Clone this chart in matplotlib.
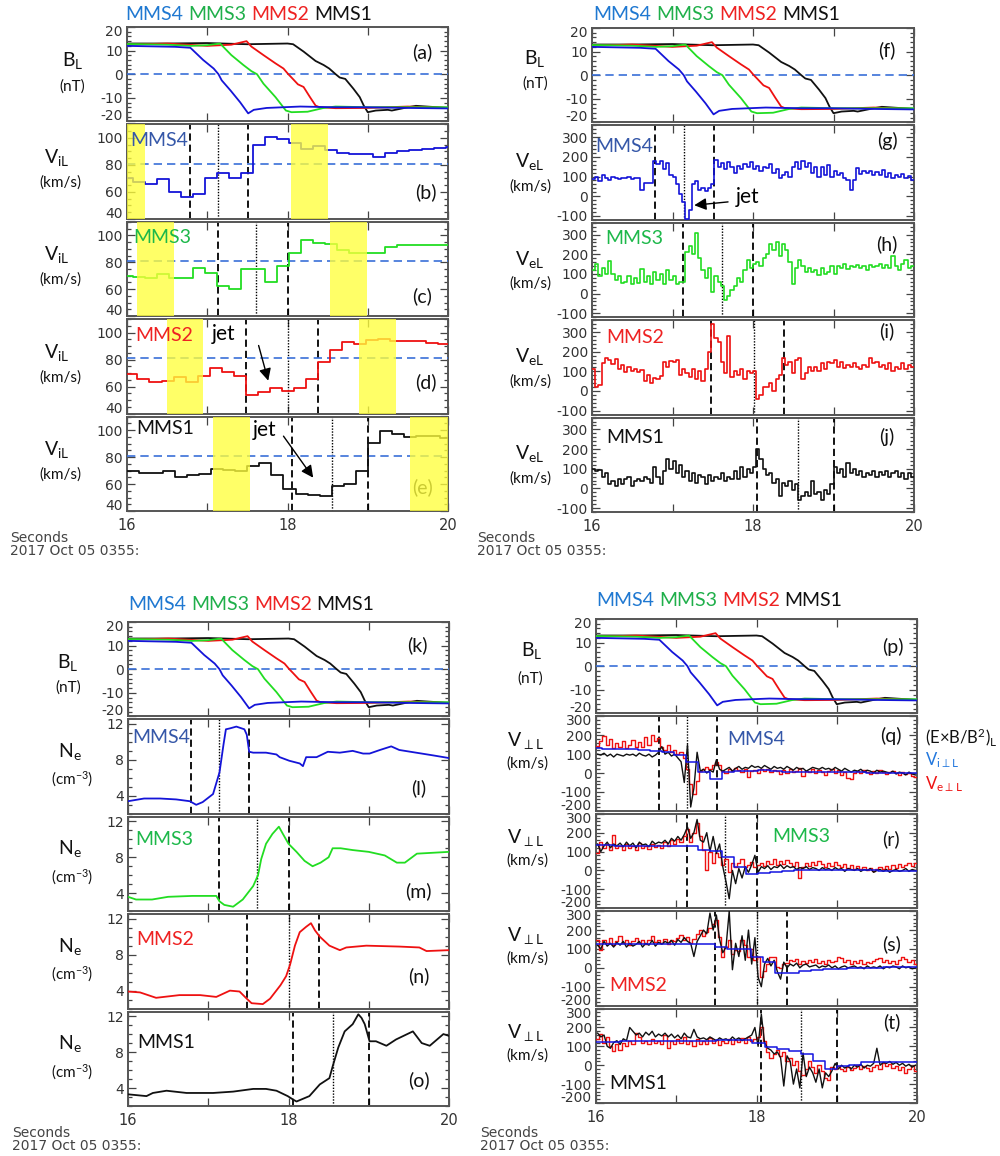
import numpy as np
import matplotlib
matplotlib.use('Agg')
import matplotlib.pyplot as plt
from matplotlib.ticker import MultipleLocator

plt.rcParams['font.family'] = ['Lato', 'DejaVu Sans']
plt.rcParams['mathtext.default'] = 'regular'
plt.rcParams['axes.unicode_minus'] = False

# ---------------- data ----------------
names = ['MMS4', 'MMS3', 'MMS2', 'MMS1']

# B_L (nT), same in every quadrant
bl_t_mms4 = [16.0, 16.3, 16.6, 16.79, 16.95, 17.08, 17.14, 17.18, 17.29, 17.41, 17.51, 17.58, 17.74, 18.16, 18.57, 18.98, 19.5, 20.0]
bl_v_mms4 = [12.0, 11.8, 11.6, 11.2, 6.0, 2.4, 0.0, -2.6, -6.9, -11.9, -16.6, -15.1, -14.3, -13.7, -14.0, -14.0, -14.3, -14.5]
bl_t_mms3 = [16.0, 16.5, 16.8, 17.0, 17.16, 17.3, 17.45, 17.55, 17.62, 17.7, 17.85, 17.98, 18.05, 18.25, 18.45, 18.6, 19.0, 19.5, 20.0]
bl_v_mms3 = [12.8, 12.5, 12.0, 12.3, 13.0, 8.1, 3.9, 1.3, 0.0, -4.0, -9.7, -15.4, -16.1, -15.9, -14.3, -13.7, -14.0, -14.0, -14.0]
bl_t_mms2 = [16.0, 16.5, 17.0, 17.3, 17.49, 17.55, 17.7, 17.85, 17.95, 18.01, 18.05, 18.13, 18.2, 18.28, 18.35, 18.4, 18.6, 19.0, 19.5, 20.0]
bl_v_mms2 = [12.5, 13.0, 12.0, 12.5, 14.0, 11.7, 8.1, 4.6, 2.4, 0.0, -1.4, -4.3, -5.4, -9.7, -13.3, -14.0, -14.4, -14.3, -13.7, -14.3]
bl_t_mms1 = [16.0, 16.5, 17.0, 17.5, 18.0, 18.07, 18.2, 18.35, 18.45, 18.52, 18.6, 18.65, 18.72, 18.82, 18.9, 18.95, 19.0, 19.1, 19.25, 19.3, 19.5, 19.6, 20.0]
bl_v_mms1 = [13.0, 13.0, 13.2, 12.7, 13.0, 12.7, 9.6, 5.6, 3.9, 2.4, 0.0, -1.4, -2.0, -6.1, -9.7, -13.3, -16.1, -15.4, -15.1, -15.4, -14.0, -13.4, -14.3]

# ion L velocity (km/s), 150 ms samples
ion_dt = 0.15
ion_t0_mms4, ion_t0_mms3, ion_t0_mms2, ion_t0_mms1 = 15.92, 15.92, 15.98, 16.0
vil_mms4 = [70, 67, 66, 69.5, 60, 56, 58.5, 70, 74, 70.5, 74, 95, 101, 99, 96, 92, 94, 91, 89, 88, 88, 86, 89, 90.5, 91, 92, 92.5, 93]
vil_mms3 = [70, 69, 68, 71, 68, 68, 76, 72, 62.5, 60, 75, 75, 65.7, 77, 87, 96.5, 94, 93.3, 89, 87, 87, 87, 91, 93, 92.5, 92.5, 92.5, 92.5]
vil_mms2 = [69, 65.7, 63.7, 64, 67, 63.7, 68, 73.6, 70.6, 68.2, 53.7, 55.7, 59, 56.5, 59, 65.7, 78, 87.3, 93, 91.3, 94.8, 95.5, 93.5, 93.5, 93.5, 92.3, 91.5]
vil_mms1 = [70, 68, 68.4, 69.6, 65.4, 66.7, 67.2, 70.9, 70.4, 69.6, 73.6, 75.3, 66.7, 56.5, 52.3, 51.9, 51.4, 58.3, 60.2, 69.6, 90.6, 99.3, 97.3, 95, 95.8, 95.3, 94.3]
vil_ref = 81

# perpendicular ion velocity, L component
vip_mms4 = [130, 128, 126, 126, 120, 117, 112, 98, 57, 5, -34, 5, 10, 12, 14, 12, 8, 6, 8, 6, 4, 3, 4, 2, 2, 0, 2, 0]
vip_mms3 = [135, 133, 132, 131, 131, 131, 130, 130, 127, 108, 101, 70, 17, -17, -15, -9, -5, 0, 0, 0, 0, 0, 0, 0, -3, -3, -3, -3]
vip_mms2 = [128, 128, 127, 127, 126, 126, 127, 128, 128, 128, 112, 100, 98, 56, 30, -28, -28, -18, -10, -6, -4, -3, -2, 0, 2, 4, 2]
vip_mms1 = [125, 125, 126, 127, 128, 128, 129, 130, 130, 131, 132, 133, 133, 118, 95, 88, 75, 62, 25, -22, -5, 2, 15, 15, 16, 16, 16]

# yellow intervals in the ViL panels
shade_mms4 = [(16.0, 16.23), (18.04, 18.50)]
shade_mms3 = [(16.12, 16.58), (18.53, 18.99)]
shade_mms2 = [(16.50, 16.95), (18.89, 19.35)]
shade_mms1 = [(17.07, 17.53), (19.53, 20.0)]

# dashed / dotted / dashed times per spacecraft
ev_mms4 = (16.78, 17.14, 17.51)
ev_mms3 = (17.13, 17.61, 18.0)
ev_mms2 = (17.48, 18.01, 18.38)
ev_mms1 = (18.05, 18.56, 19.0)

# electron L velocity (km/s), 40 ms samples from 16.00
ele_t0, ele_dt = 16.0, 0.04
vel_mms4 = [85, 100, 75, 110, 95, 80, 100, 90, 85, 95,
            90, 100, 85, 95, 95, 30, 65, 65, 65, 180,
            165, 180, 140, 170, 110, 100, 60, 10, -30, -115,
            -70, 60, 75, 30, 40, 25, 40, 60, 185, 150,
            170, 140, 175, 150, 120, 155, 140, 165, 150, 175,
            140, 155, 130, 150, 145, 165, 120, 140, 90, 110,
            125, 100, 150, 175, 140, 180, 150, 170, 120, 150,
            100, 150, 110, 160, 100, 130, 110, 120, 90, 80,
            30, 80, 145, 115, 130, 120, 130, 110, 125, 110,
            135, 100, 120, 95, 110, 100, 115, 95, 105, 80]
vel_mms3 = [120, 150, 90, 130, 100, 165, 100, 70, 90, 55,
            60, 90, 50, 80, 55, 125, 60, 90, 50, 110,
            70, 100, 50, 120, 70, 90, 50, 60, 60, 210,
            240, 200, 310, 180, 120, 80, 130, 10, 90, 60,
            40, -30, -10, 20, 40, 80, 60, 120, 170, 130,
            150, 160, 140, 180, 200, 250, 220, 260, 190, 250,
            220, 160, 50, 130, 170, 140, 110, 130, 110, 120,
            95, 130, 100, 110, 140, 100, 140, 130, 150, 125,
            140, 135, 145, 130, 140, 120, 145, 135, 140, 150,
            130, 145, 130, 190, 140, 120, 150, 170, 130, 140]
vel_mms2 = [110, 20, 30, 140, 170, 160, 135, 165, 110, 130,
            95, 120, 100, 110, 95, 105, 50, 80, 40, 65,
            60, 75, 150, 120, 155, 150, 160, 80, 110, 90,
            70, 110, 60, 100, 50, 110, 200, 340, 270, 250,
            150, 90, 280, 70, 100, 80, 110, 60, 100, 90,
            100, -40, -20, 20, 20, 40, 0, 60, 80, 170,
            130, 150, 90, 160, 170, 60, 90, 120, 100, 120,
            100, 140, 110, 150, 140, 160, 120, 150, 115, 130,
            120, 140, 120, 110, 130, 120, 170, 140, 150, 120,
            130, 110, 140, 100, 120, 110, 140, 110, 130, 120]
vel_mms1 = [100, 90, 95, 60, 80, 20, 40, 10, 50, 20,
            50, 60, 10, 40, 50, 40, 60, 50, 30, 110,
            60, 20, 90, 150, 100, 140, 80, 120, 60, 90,
            40, 80, 30, 70, 60, 20, 70, 40, 60, 50,
            80, 40, 60, 50, 90, 50, 110, 60, 100, 80,
            110, 200, 150, 100, 70, 80, 30, 50, -40, 30,
            10, 40, -10, 20, -60, -40, -20, -40, 40, -30,
            -20, -60, -10, -30, 20, 110, 80, 100, 60, 130,
            80, 100, 70, 90, 60, 80, 70, 90, 60, 85,
            70, 90, 60, 80, 90, 60, 80, 50, 80, 60]

# perpendicular electron velocity, L component (40 ms from 16.00)
vep_mms4 = [145, 170, 195, 150, 180, 130, 160, 140, 170, 130,
            150, 175, 140, 165, 140, 190, 150, 200, 170, 185,
            140, 120, 150, 110, 120, 100, 110, 80, 20, -60,
            -110, -40, 10, 20, 30, 20, 40, 60, 40, 10,
            0, 20, 10, 25, 15, 5, 20, -20, 10, 15,
            0, 20, 10, 20, 5, 15, 10, -5, 15, 0,
            20, 5, 10, 25, -15, 10, 5, 20, 0, 15,
            5, -10, 10, 20, 0, 15, -10, 5, -25, -30,
            0, 10, 0, 15, 5, -5, 10, 0, 15, 5,
            -5, 5, 10, 0, -10, 5, -5, 0, -15, -20]
vep_mms3 = [90, 150, 120, 140, 110, 190, 120, 130, 110, 140,
            120, 130, 110, 145, 120, 130, 115, 140, 125, 135,
            120, 150, 130, 160, 140, 165, 150, 180, 220, 150,
            200, 250, 180, 110, 0, 100, 40, 90, 70, 30,
            60, -10, 40, 20, 40, 60, 20, 30, 45, 20,
            30, 40, 25, 50, 35, 60, 30, 50, 35, 55,
            40, 25, 45, -40, 20, 40, 25, 45, 30, 50,
            35, 20, 40, 25, 45, 30, 20, 35, 15, 30,
            10, 25, 5, 20, 0, 15, -5, 10, 20, 5,
            25, 10, 30, 15, 35, 20, 30, 40, 25, 40]
vep_mms2 = [145, 95, 150, 130, 160, 120, 140, 170, 130, 150,
            120, 140, 160, 130, 150, 125, 145, 170, 135, 150,
            130, 155, 125, 150, 140, 160, 175, 150, 165, 130,
            155, 180, 200, 170, 190, 210, 230, 255, 165, 60,
            110, 150, 75, 95, 90, 145, 120, 60, 100, 40,
            60, -50, -15, 20, 55, 60, 5, 0, 20, 25,
            40, 35, 45, 20, 35, 25, 40, 30, 45, 25,
            35, 20, 40, 30, 35, 55, 50, 30, 40, 20,
            35, 25, 40, 20, 30, 25, 35, 45, 50, 30,
            40, 25, 35, 20, 40, 55, 45, 30, 40, 20]
vep_mms1 = [140, 165, 120, 150, 100, 75, 110, 80, 120, 100,
            130, 110, 170, 150, 120, 130, 110, 140, 120, 130,
            110, 160, 90, 130, 110, 140, 120, 150, 110, 130,
            100, 140, 115, 130, 110, 145, 120, 135, 105, 130,
            120, 140, 115, 135, 125, 145, 120, 150, 130, 140,
            150, 200, 130, 70, 40, 60, 80, 50, 70, 20,
            40, 0, 20, -30, -50, -20, 20, -10, -40, 0,
            -30, -70, -80, -10, -20, -5, -20, -30, -10, -25,
            -15, 0, -20, -5, -15, -30, -10, 0, -20, 10,
            -5, 5, -15, -5, -25, -10, -40, -20, -5, -30]

# (E x B / B^2)_L, 40 ms from 16.02
exb_t0 = 16.02
exb_mms4 = [100, 95, 105, 90, 100, 85, 100, 95, 90, 100,
            95, 100, 90, 105, 95, 90, 100, 85, 95, 110,
            140, 100, 110, 90, 100, 80, 60, -50, 150, -180,
            -80, 110, 10, 20, 0, 15, 5, 70, 20, 10,
            20, 30, 10, 25, 35, 20, 30, 25, 40, 30,
            35, 25, 40, 30, 20, 35, 25, 30, 20, 35,
            25, 15, 30, 20, 25, 10, 20, 30, 25, 20,
            30, 20, 25, 15, 30, 20, 10, 25, 15, 5,
            15, 10, 20, 5, 15, 10, 0, 15, 5, 10,
            5, 0, 10, -5, 5, 0, -10, 5, -5, -10]
exb_mms3 = [140, 100, 130, 150, 120, 140, 130, 145, 125, 150,
            130, 145, 120, 150, 135, 140, 125, 155, 140, 150,
            145, 160, 140, 170, 155, 180, 160, 190, 230, 170,
            200, 270, 160, 150, 200, 100, 180, 90, 140, 20,
            -60, -150, 0, -70, 10, -40, 20, -10, 30, 80,
            -10, 20, 10, 25, 5, 20, 15, 30, 10, 25,
            15, 20, 5, 15, 10, 20, 5, 15, 10, 0,
            15, 5, 10, 0, 15, 5, 10, -5, 10, 5,
            0, 10, -5, 5, 0, 10, -10, 0, 5, -5,
            5, -10, 0, 5, -5, 0, 10, -5, 5, 0]
exb_mms2 = [120, 100, 140, 115, 130, 110, 135, 120, 140, 110,
            130, 115, 125, 140, 110, 130, 120, 145, 115, 135,
            125, 140, 130, 145, 120, 150, 135, 160, 140, 130,
            60, 140, 170, 200, 180, 290, 200, 280, 150, 80,
            110, 300, -10, 130, 60, 170, 40, 200, 20, 160,
            -50, -100, 20, 50, 10, 40, -20, -60, 30, 0,
            20, 10, 25, 0, 15, 20, 5, 10, 15, 0,
            10, 5, 15, 0, 10, -5, 5, 10, 0, 5,
            10, 0, 5, -5, 10, 0, 5, 0, 10, -5,
            5, 0, 10, 5, -5, 10, 0, 5, -5, 0]
exb_mms1 = [170, 150, 160, 100, 90, 120, 130, 110, 140, 130,
            200, 180, 160, 170, 150, 175, 160, 180, 150, 165,
            155, 170, 150, 165, 145, 160, 140, 170, 150, 145,
            190, 150, 140, 145, 135, 150, 140, 130, 145, 135,
            140, 130, 150, 135, 145, 130, 140, 150, 160, 200,
            100, 270, 120, 90, 80, 60, 70, 40, -110, 50,
            20, -100, -20, -120, 65, -60, -10, -40, -90, -20,
            -120, -40, -60, -30, 10, -20, 0, -15, -5, -20,
            0, -10, 5, -15, 0, -5, 10, 90, 0, 15,
            10, 20, 5, 15, 0, 10, -5, 5, -10, 0]

# electron density (cm^-3)
ne_t_mms4 = [16.0, 16.2, 16.4, 16.6, 16.77, 16.85, 16.93, 17.06, 17.14, 17.19, 17.22, 17.27, 17.35, 17.45, 17.48, 17.51, 17.56, 17.72, 17.85, 17.89, 18.01, 18.14, 18.18, 18.22, 18.35, 18.49, 18.64, 18.80, 18.93, 19.01, 19.14, 19.28, 19.38, 19.59, 19.80, 20.0]
ne_v_mms4 = [3.4, 3.7, 3.7, 3.6, 3.4, 3.0, 3.3, 4.2, 6.6, 9.7, 11.4, 11.5, 11.7, 11.4, 10.8, 8.9, 8.8, 8.8, 8.6, 8.3, 7.9, 7.6, 7.3, 8.3, 8.3, 8.9, 8.8, 9.0, 8.7, 8.7, 9.1, 9.5, 9.1, 8.8, 8.5, 8.2]
ne_t_mms3 = [16.0, 16.1, 16.3, 16.5, 16.8, 17.1, 17.14, 17.2, 17.31, 17.43, 17.56, 17.62, 17.66, 17.72, 17.8, 17.88, 17.93, 18.0, 18.1, 18.2, 18.3, 18.4, 18.5, 18.55, 18.65, 18.8, 19.0, 19.2, 19.35, 19.45, 19.6, 19.8, 20.0]
ne_v_mms3 = [3.6, 3.3, 3.3, 3.6, 3.7, 3.7, 3.1, 2.7, 2.5, 3.3, 4.8, 6.0, 7.8, 9.5, 10.6, 11.4, 10.6, 9.5, 8.6, 7.6, 7.0, 7.4, 8.0, 9.0, 9.0, 8.8, 8.6, 8.2, 7.4, 7.4, 8.4, 8.5, 8.6]
ne_t_mms2 = [16.0, 16.15, 16.35, 16.64, 16.9, 17.1, 17.27, 17.39, 17.48, 17.54, 17.68, 17.77, 17.9, 17.97, 18.02, 18.08, 18.14, 18.22, 18.28, 18.33, 18.39, 18.51, 18.64, 18.72, 18.97, 19.38, 19.63, 19.72, 20.0]
ne_v_mms2 = [3.9, 3.8, 3.2, 3.5, 3.5, 3.3, 4.0, 3.9, 3.1, 2.6, 2.5, 3.1, 4.6, 5.6, 6.9, 9.0, 10.5, 11.1, 11.5, 10.7, 10.0, 9.0, 8.5, 8.8, 9.0, 8.9, 8.8, 8.4, 8.5]
ne_t_mms1 = [16.0, 16.23, 16.31, 16.48, 16.73, 17.06, 17.31, 17.56, 17.72, 17.85, 17.99, 18.06, 18.1, 18.26, 18.39, 18.51, 18.55, 18.62, 18.7, 18.8, 18.87, 18.91, 18.95, 19.01, 19.09, 19.22, 19.34, 19.55, 19.66, 19.76, 19.93, 20.0]
ne_v_mms1 = [3.3, 3.1, 3.45, 3.7, 3.45, 3.45, 3.6, 3.9, 3.9, 3.7, 3.1, 2.7, 2.5, 3.1, 4.4, 5.1, 6.4, 8.5, 10.3, 11.1, 12.2, 11.8, 11.1, 9.2, 9.2, 8.7, 9.4, 10.3, 9.0, 8.7, 10.0, 9.8]

# ---------------- style ----------------
line_col = {'MMS4': '#1414d8', 'MMS3': '#22dd22', 'MMS2': '#ee1111', 'MMS1': '#111111'}
title_col = {'MMS4': '#1f78d1', 'MMS3': '#1faf4a', 'MMS2': '#ee2222', 'MMS1': '#111111'}
label_col = {'MMS4': '#3557a8', 'MMS3': '#1db84a', 'MMS2': '#ee2222', 'MMS1': '#111111'}
tick_font = ['DejaVu Sans']

W, H = 1000, 1156
fig = plt.figure(figsize=(W / 100, H / 100), dpi=100)
rend = fig.canvas.get_renderer()


def fx(px):
    return px / W


def fy(py):
    return 1 - py / H


def column(left, right, top, bottom, gap=3):
    h = (bottom - top - 4 * gap) / 5
    axs = []
    for i in range(5):
        t = top + i * (h + gap)
        axs.append(fig.add_axes([fx(left), fy(t + h), (right - left) / W, h / H]))
    return axs


def style(ax, ylim, yticks, yminor, bottom=False):
    lo, hi = ylim
    ax.set_xlim(16, 20)
    ax.set_ylim(lo, hi)
    ax.set_yticks(yticks)
    # labels sitting on the frame edge are pulled inside, as in the original
    ax.set_yticklabels(['' if v in (lo, hi) else str(v) for v in yticks])
    for v in yticks:
        if v in (lo, hi):
            dy = -3.6 if v == hi else 3.6
            ax.annotate(str(v), xy=(0, v), xycoords=ax.get_yaxis_transform(),
                        xytext=(-3, dy), textcoords='offset points', ha='right', va='center',
                        fontsize=10, family=tick_font, color='#333', annotation_clip=False)
    ax.yaxis.set_minor_locator(MultipleLocator(yminor))
    ax.set_xticks([16, 17, 18, 19, 20])
    ax.set_xticklabels(['16', '', '18', '', '20'] if bottom else [])
    ax.tick_params(which='both', direction='in', top=True, right=True,
                   color='#444', labelcolor='#333', width=0.9)
    ax.tick_params(which='major', length=6)
    ax.tick_params(which='minor', length=3)
    ax.tick_params(axis='y', pad=3, labelsize=10)
    ax.tick_params(axis='x', pad=5, labelsize=10.5)
    for lab in ax.get_xticklabels() + ax.get_yticklabels():
        lab.set_family(tick_font)
    for s in ax.spines.values():
        s.set_color('#555555')
        s.set_linewidth(1.4)


def ylab(ax, main, unit, dx1, dy1, dx2, dy2):
    pos = ax.get_position()
    lx = pos.x0 * W
    cy = (1 - (pos.y0 + pos.y1) / 2) * H
    fig.text(fx(lx + dx1), fy(cy + dy1), main, fontsize=14, ha='center', va='center', color='#111')
    fig.text(fx(lx + dx2), fy(cy + dy2), unit, fontsize=11, ha='center', va='center', color='#111')


def letter(ax, s, x, y):
    ax.text(x, y, s, transform=ax.transAxes, fontsize=14, ha='center', va='center', color='#111', zorder=3)


def name(ax, n, x, y, ha='left'):
    ax.text(x, y, n, transform=ax.transAxes, fontsize=14, ha=ha, va='center',
            color=label_col[n], zorder=8)


def events(ax, ev):
    ax.axvline(ev[0], color='k', ls=(0, (4, 2.2)), lw=1.3, zorder=2)
    ax.axvline(ev[1], color='k', ls=(0, (1, 1.1)), lw=1.0, zorder=2)
    ax.axvline(ev[2], color='k', ls=(0, (4, 2.2)), lw=1.3, zorder=2)


def steps(ax, t0, dt, vals, color, lw=1.2, z=4):
    t = t0 + dt * np.arange(len(vals) + 1)
    v = np.append(vals, vals[-1])
    ax.step(t, v, where='post', color=color, lw=lw, zorder=z)


def bl_panel(ax):
    for n, t, v in [('MMS1', bl_t_mms1, bl_v_mms1), ('MMS2', bl_t_mms2, bl_v_mms2),
                    ('MMS3', bl_t_mms3, bl_v_mms3), ('MMS4', bl_t_mms4, bl_v_mms4)]:
        ax.plot(t, v, color=line_col[n], lw=1.3, zorder=4)
    ax.axhline(0, color='#3a70d8', ls=(0, (5, 3)), lw=1.2, zorder=3)
    style(ax, (-20, 20), [-20, -10, 0, 10, 20], 2)


def color_title(x, y):
    for n in names:
        t = fig.text(fx(x), fy(y), n, color=title_col[n], fontsize=14, ha='left', va='center')
        x += t.get_window_extent(renderer=rend).width + 5


def seconds(x, y):
    fig.text(fx(x), fy(y), 'Seconds', fontsize=10, color='#444', va='center', family=tick_font)
    fig.text(fx(x), fy(y + 13), '2017 Oct 05 0355:', fontsize=10, color='#444', va='center', family=tick_font)


# ---------------- quadrant 1 : ion L velocity ----------------
ax1 = column(127, 448, 27, 511)
bl_panel(ax1[0])
ylab(ax1[0], 'B$_L$', '(nT)', -54, -14, -55, 12)
letter(ax1[0], '(a)', 0.92, 0.73)
vil = [(vil_mms4, ion_t0_mms4, shade_mms4, ev_mms4),
       (vil_mms3, ion_t0_mms3, shade_mms3, ev_mms3),
       (vil_mms2, ion_t0_mms2, shade_mms2, ev_mms2),
       (vil_mms1, ion_t0_mms1, shade_mms1, ev_mms1)]
for i, (vals, t0, shade, ev) in enumerate(vil):
    ax = ax1[i + 1]
    n = names[i]
    steps(ax, t0, ion_dt, vals, line_col[n], lw=1.3)
    ax.axhline(vil_ref, color='#3a70d8', ls=(0, (5, 3)), lw=1.2, zorder=3)
    events(ax, ev)
    for a, b in shade:
        ax.axvspan(a, b, color='#ffff3c', alpha=0.78, lw=0, zorder=6)
    style(ax, (40, 110), [40, 60, 80, 100], 5, bottom=(i == 3))
    ylab(ax, 'V$_{iL}$', '(km/s)', -70, -14, -67, 11)
letter(ax1[1], '(b)', 0.93, 0.28)
letter(ax1[2], '(c)', 0.92, 0.21)
letter(ax1[3], '(d)', 0.93, 0.33)
letter(ax1[4], '(e)', 0.92, 0.25)
name(ax1[1], 'MMS4', 0.01, 0.83)
name(ax1[2], 'MMS3', 0.02, 0.83)
name(ax1[3], 'MMS2', 0.025, 0.83)
name(ax1[4], 'MMS1', 0.03, 0.87)
ax1[3].text(17.2, 99, 'jet', fontsize=15, ha='center', va='center', zorder=8)
ax1[3].annotate('', xy=(17.76, 64.4), xytext=(17.64, 90.5),
                arrowprops=dict(arrowstyle='-|>', color='k', lw=1, mutation_scale=18, shrinkA=0, shrinkB=0))
ax1[4].text(17.72, 100, 'jet', fontsize=15, ha='center', va='center', zorder=8)
ax1[4].annotate('', xy=(18.32, 64.7), xytext=(17.95, 95.5),
                arrowprops=dict(arrowstyle='-|>', color='k', lw=1, mutation_scale=18, shrinkA=0, shrinkB=0))
color_title(125, 14)
seconds(10, 538)

# ---------------- quadrant 2 : electron L velocity ----------------
ax2 = column(592, 914, 28, 512)
bl_panel(ax2[0])
ylab(ax2[0], 'B$_L$', '(nT)', -57, -17, -57, 8)
letter(ax2[0], '(f)', 0.916, 0.77)
vel = [(vel_mms4, ev_mms4), (vel_mms3, ev_mms3), (vel_mms2, ev_mms2), (vel_mms1, ev_mms1)]
for i, (vals, ev) in enumerate(vel):
    ax = ax2[i + 1]
    n = names[i]
    steps(ax, ele_t0, ele_dt, vals, line_col[n], lw=1.2)
    events(ax, ev)
    style(ax, (-120, 360), [-100, 0, 100, 200, 300], 20, bottom=(i == 3))
    ylab(ax, 'V$_{eL}$', '(km/s)', -62, -11, -62, 14)
for ax, s, y in zip(ax2[1:], ['(g)', '(h)', '(i)', '(j)'], [0.84, 0.77, 0.88, 0.79]):
    letter(ax, s, 0.916, y)
name(ax2[1], 'MMS4', 0.01, 0.78)
name(ax2[2], 'MMS3', 0.04, 0.83)
name(ax2[3], 'MMS2', 0.045, 0.82)
name(ax2[4], 'MMS1', 0.045, 0.79)
ax2[1].text(17.93, -3, 'jet', fontsize=15, ha='center', va='center', zorder=8)
ax2[1].annotate('', xy=(17.27, -46), xytext=(17.69, -29),
                arrowprops=dict(arrowstyle='-|>', color='k', lw=1, mutation_scale=18, shrinkA=0, shrinkB=0))
color_title(593, 14)
seconds(477, 538)

# ---------------- quadrant 3 : electron density ----------------
ax3 = column(128, 449, 622, 1106)
bl_panel(ax3[0])
ylab(ax3[0], 'B$_L$', '(nT)', -60, -7, -60, 18)
letter(ax3[0], '(k)', 0.90, 0.755)
ne = [(ne_t_mms4, ne_v_mms4, ev_mms4), (ne_t_mms3, ne_v_mms3, ev_mms3),
      (ne_t_mms2, ne_v_mms2, ev_mms2), (ne_t_mms1, ne_v_mms1, ev_mms1)]
for i, (t, v, ev) in enumerate(ne):
    ax = ax3[i + 1]
    n = names[i]
    ax.plot(t, v, color=line_col[n], lw=1.3, zorder=4)
    events(ax, ev)
    style(ax, (2, 12.5), [4, 8, 12], 1, bottom=(i == 3))
    ylab(ax, 'N$_e$', '(cm$^{-3}$)', -58, -15, -56, 13)
for ax, s, y in zip(ax3[1:], ['(l)', '(m)', '(n)', '(o)'], [0.27, 0.21, 0.34, 0.27]):
    letter(ax, s, 0.905, y)
name(ax3[1], 'MMS4', 0.012, 0.81)
name(ax3[2], 'MMS3', 0.022, 0.755)
name(ax3[3], 'MMS2', 0.025, 0.73)
name(ax3[4], 'MMS1', 0.028, 0.67)
color_title(128, 604)
seconds(12, 1133)

# ---------------- quadrant 4 : perpendicular velocities ----------------
ax4 = column(596, 917, 619, 1103)
bl_panel(ax4[0])
ylab(ax4[0], 'B$_L$', '(nT)', -64, -16, -66, 12)
letter(ax4[0], '(p)', 0.925, 0.70)
vperp = [(vep_mms4, exb_mms4, vip_mms4, ion_t0_mms4, ev_mms4),
         (vep_mms3, exb_mms3, vip_mms3, ion_t0_mms3, ev_mms3),
         (vep_mms2, exb_mms2, vip_mms2, ion_t0_mms2, ev_mms2),
         (vep_mms1, exb_mms1, vip_mms1, ion_t0_mms1, ev_mms1)]
for i, (ve, exb, vi, t0, ev) in enumerate(vperp):
    ax = ax4[i + 1]
    steps(ax, ele_t0, ele_dt, ve, '#ee1111', lw=1.0, z=4)
    ax.plot(exb_t0 + ele_dt * np.arange(len(exb)), exb, color='#111111', lw=1.0, zorder=5)
    steps(ax, t0, ion_dt, vi, '#1414e0', lw=1.1, z=6)
    events(ax, ev)
    style(ax, (-200, 300), [-200, -100, 0, 100, 200, 300], 20, bottom=(i == 3))
    ylab(ax, 'V$_{\\perp L}$', '(km/s)', -71, -23, -69, 0)
for ax, s, y in zip(ax4[1:], ['(q)', '(r)', '(s)', '(t)'], [0.79, 0.73, 0.65, 0.86]):
    letter(ax, s, 0.92, y)
name(ax4[1], 'MMS4', 0.41, 0.76)
name(ax4[2], 'MMS3', 0.55, 0.755)
name(ax4[3], 'MMS2', 0.04, 0.21)
name(ax4[4], 'MMS1', 0.04, 0.21)
fig.text(fx(925), fy(737), '(E\u00d7B/B$^2$)$_L$', fontsize=12, color='#111', va='center')
fig.text(fx(925), fy(760), 'V$_{i\\perp L}$', fontsize=12, color='#2277dd', va='center')
fig.text(fx(925), fy(784), 'V$_{e\\perp L}$', fontsize=12, color='#ee1111', va='center')
color_title(596, 601)
seconds(480, 1133)

fig.savefig('out.png', dpi=100)
